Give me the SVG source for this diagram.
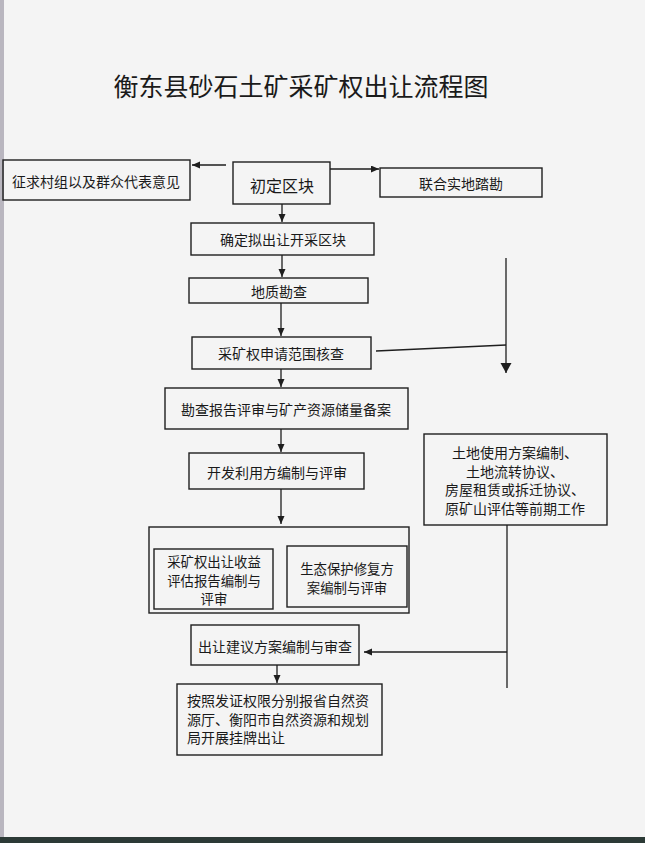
<svg xmlns="http://www.w3.org/2000/svg" width="645" height="843" viewBox="0 0 645 843">
<defs>
<style>
.box{fill:none;stroke:#1e1e1e;stroke-width:1.4}
.ln{fill:none;stroke:#1e1e1e;stroke-width:1.3}
.t{font-family:"Noto Sans CJK SC","Noto Sans",sans-serif;font-size:14px;fill:#1a1a1a;text-anchor:middle;dominant-baseline:central}
.s{font-size:13.4px}
.tl{text-anchor:start}
.title{font-family:"Noto Sans CJK SC","Noto Sans",sans-serif;font-size:25px;fill:#1a1a1a;text-anchor:middle;dominant-baseline:central}
</style>
<marker id="ah" markerUnits="userSpaceOnUse" markerWidth="9" markerHeight="8" refX="8" refY="3.5" orient="auto">
<path d="M0,0 L8,3.5 L0,7 z" fill="#1e1e1e"/>
</marker>
<marker id="ahb" markerUnits="userSpaceOnUse" markerWidth="12" markerHeight="12" refX="10" refY="5.5" orient="auto">
<path d="M0,0 L10,5.5 L0,11 z" fill="#1e1e1e"/>
</marker>
</defs>
<rect x="0" y="0" width="645" height="843" fill="#f4f4f4"/>
<rect x="0" y="0" width="4" height="838" fill="#b9b6bf"/>
<rect x="0" y="837" width="645" height="6" fill="#2c3a36"/>

<text class="title" x="301" y="85">衡东县砂石土矿采矿权出让流程图</text>

<g id="n1"><rect class="box" x="3" y="160" width="187" height="40"/><text class="t" x="96" y="181">征求村组以及群众代表意见</text></g>
<g id="n2"><rect class="box" x="233" y="162" width="97" height="42"/><text class="t" x="282" y="185" style="font-size:16px">初定区块</text></g>
<g id="n3"><rect class="box" x="380" y="168" width="162" height="29"/><text class="t" x="461" y="183">联合实地踏勘</text></g>
<g id="n4"><rect class="box" x="191" y="223" width="183" height="32"/><text class="t" x="283" y="239">确定拟出让开采区块</text></g>
<g id="n5"><rect class="box" x="189" y="278" width="179" height="25"/><text class="t" x="279" y="291">地质勘查</text></g>
<g id="n6"><rect class="box" x="192" y="337" width="179" height="32"/><text class="t" x="281" y="353">采矿权申请范围核查</text></g>
<g id="n7"><rect class="box" x="165" y="388" width="243" height="41"/><text class="t" x="286" y="409">勘查报告评审与矿产资源储量备案</text></g>
<g id="n8"><rect class="box" x="189" y="453" width="175" height="36"/><text class="t" x="277" y="472">开发利用方编制与评审</text></g>
<g id="grp"><rect class="box" x="149" y="527" width="260" height="86"/></g>
<g id="n9"><rect class="box" x="154" y="549" width="119" height="60"/>
<text class="t s" x="214" y="561">采矿权出让收益</text><text class="t s" x="214" y="579.5">评估报告编制与</text><text class="t s" x="214" y="598">评审</text></g>
<g id="n10"><rect class="box" x="287" y="546" width="120" height="61"/>
<text class="t s" x="347" y="568">生态保护修复方</text><text class="t s" x="347" y="586.5">案编制与评审</text></g>
<g id="n11"><rect class="box" x="424" y="434" width="183" height="91"/>
<text class="t" x="515" y="452">土地使用方案编制、</text><text class="t" x="515" y="470.5">土地流转协议、</text><text class="t" x="515" y="489">房屋租赁或拆迁协议、</text><text class="t" x="515" y="507.5">原矿山评估等前期工作</text></g>
<g id="n12"><rect class="box" x="191" y="625" width="168" height="40"/><text class="t" x="275" y="646">出让建议方案编制与审查</text></g>
<g id="n13"><rect class="box" x="177" y="684" width="205" height="71"/>
<text class="t tl" x="187" y="700">按照发证权限分别报省自然资</text><text class="t tl" x="187" y="718.5">源厅、衡阳市自然资源和规划</text><text class="t tl" x="187" y="737">局开展挂牌出让</text></g>

<g id="connectors">
<line class="ln" x1="226" y1="165" x2="192" y2="165" marker-end="url(#ah)"/>
<line class="ln" x1="330" y1="169" x2="379" y2="169" marker-end="url(#ah)"/>
<line class="ln" x1="282" y1="204" x2="282" y2="222" marker-end="url(#ah)"/>
<line class="ln" x1="282" y1="255" x2="282" y2="277" marker-end="url(#ah)"/>
<line class="ln" x1="281" y1="303" x2="281" y2="336" marker-end="url(#ah)"/>
<line class="ln" x1="281" y1="369" x2="281" y2="387" marker-end="url(#ah)"/>
<line class="ln" x1="281" y1="429" x2="281" y2="452" marker-end="url(#ah)"/>
<line class="ln" x1="281" y1="489" x2="281" y2="524" marker-end="url(#ah)"/>
<line class="ln" x1="376" y1="351" x2="506" y2="345"/>
<line class="ln" x1="506" y1="258" x2="506" y2="373" stroke-width="1.8" marker-end="url(#ahb)"/>
<line class="ln" x1="507" y1="525" x2="507" y2="688"/>
<line class="ln" x1="507" y1="652" x2="364" y2="652" marker-end="url(#ah)"/>
<line class="ln" x1="277" y1="665" x2="277" y2="683" marker-end="url(#ah)"/>
</g>
</svg>
